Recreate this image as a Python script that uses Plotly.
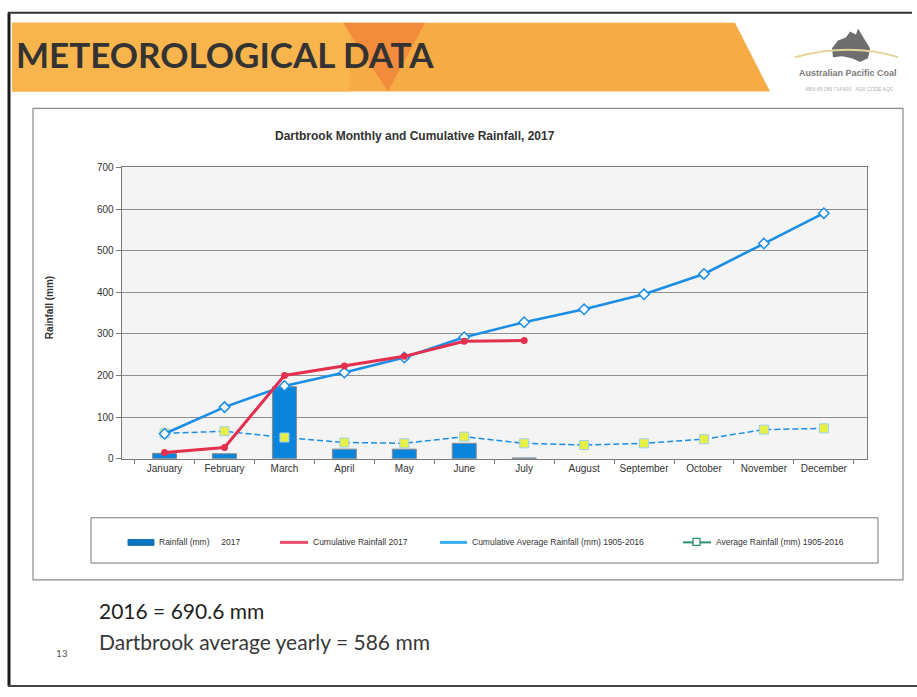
import plotly.graph_objects as go

W, H = 917, 697

months = ["January", "February", "March", "April", "May", "June", "July",
          "August", "September", "October", "November", "December"]
rain_2017 = [13, 12, 173, 23, 23, 37, 2, None, None, None, None, None]
cum_rain_2017 = [15, 27, 200, 223, 246, 282, 284, None, None, None, None, None]
cum_avg_rain = [60, 124, 175, 207, 243, 292, 328, 359, 395, 444, 517, 590]
avg_rain = [61, 66, 51, 39, 37, 53, 37, 33, 37, 47, 70, 73]

y_ticks = [0, 100, 200, 300, 400, 500, 600, 700]

legend_labels = ["Rainfall (mm)     2017", "Cumulative Rainfall 2017",
                 "Cumulative Average Rainfall (mm) 1905-2016",
                 "Average Rainfall (mm) 1905-2016"]


def px(x):
    return x / W


def py(y):
    return 1 - y / H


CHART_FONT = "Liberation Sans Narrow, Liberation Sans, Arial"
BLUE = "#1a8ee4"
RED = "#e3304f"

fig = go.Figure()

fig.add_trace(go.Bar(
    x=months, y=rain_2017, name=legend_labels[0],
    marker=dict(color="#0b84dc", line=dict(color="#8a8a8a", width=1)),
    width=0.4, showlegend=False,
))
fig.add_trace(go.Scatter(
    x=months, y=avg_rain, name=legend_labels[3], mode="lines+markers",
    line=dict(color=BLUE, width=1.5, dash="6px,3px"),
    marker=dict(symbol="square", size=9, color="#e8ef45",
                line=dict(color="#9fd0f0", width=1)),
    showlegend=False,
))
fig.add_trace(go.Scatter(
    x=months, y=cum_avg_rain, name=legend_labels[2], mode="lines+markers",
    line=dict(color=BLUE, width=2.6),
    marker=dict(symbol="diamond", size=8, color="white",
                line=dict(color=BLUE, width=1.5)),
    showlegend=False,
))
fig.add_trace(go.Scatter(
    x=months, y=cum_rain_2017, name=legend_labels[1], mode="lines+markers",
    line=dict(color=RED, width=3),
    marker=dict(symbol="circle", size=7, color=RED),
    showlegend=False, connectgaps=False,
))

shapes = []
# slide border
shapes.append(dict(type="line", xref="paper", yref="paper", x0=px(9), x1=px(9),
                   y0=py(8), y1=py(692), line=dict(color="#1a1a1a", width=3)))
shapes.append(dict(type="line", xref="paper", yref="paper", x0=px(8), x1=px(912),
                   y0=py(8), y1=py(8), line=dict(color="#333333", width=2)))
shapes.append(dict(type="line", xref="paper", yref="paper", x0=px(8), x1=px(917),
                   y0=py(692), y1=py(692), line=dict(color="#444444", width=2)))
# orange banner
shapes.append(dict(type="path", xref="paper", yref="paper",
                   path=f"M {px(12)},{py(18)} L {px(735)},{py(18)} L {px(770)},{py(88)} L {px(12)},{py(88)} Z",
                   fillcolor="#f7ab45", line=dict(width=0), layer="below"))
shapes.append(dict(type="path", xref="paper", yref="paper",
                   path=f"M {px(12)},{py(18)} L {px(350)},{py(18)} L {px(350)},{py(88)} L {px(12)},{py(88)} Z",
                   fillcolor="#f9b54d", line=dict(width=0), layer="below"))
shapes.append(dict(type="path", xref="paper", yref="paper",
                   path=f"M {px(343)},{py(18)} L {px(425)},{py(18)} L {px(388)},{py(88)} Z",
                   fillcolor="#f28b3c", line=dict(width=0), layer="below"))
# chart frame
shapes.append(dict(type="rect", xref="paper", yref="paper", x0=px(33), x1=px(903),
                   y0=py(105), y1=py(584), line=dict(color="#8c8c8c", width=1.2),
                   fillcolor="rgba(0,0,0,0)", layer="below"))
# legend box
shapes.append(dict(type="rect", xref="paper", yref="paper", x0=px(91), x1=px(878),
                   y0=py(521), y1=py(567), line=dict(color="#777777", width=1),
                   fillcolor="white", layer="below"))
ly = py(546)
# legend swatches
shapes.append(dict(type="rect", xref="paper", yref="paper", x0=px(128), x1=px(154),
                   y0=py(549), y1=py(543), fillcolor="#0b75c2",
                   line=dict(color="#1a6fb0", width=1)))
shapes.append(dict(type="line", xref="paper", yref="paper", x0=px(280), x1=px(308),
                   y0=ly, y1=ly, line=dict(color="#ef4f6e", width=3)))
shapes.append(dict(type="line", xref="paper", yref="paper", x0=px(440), x1=px(467),
                   y0=ly, y1=ly, line=dict(color="#35aef0", width=3)))
shapes.append(dict(type="line", xref="paper", yref="paper", x0=px(683), x1=px(711),
                   y0=ly, y1=ly, line=dict(color="#2a8f6e", width=2)))
shapes.append(dict(type="rect", xref="paper", yref="paper", x0=px(693), x1=px(700),
                   y0=py(549), y1=py(542), fillcolor="white",
                   line=dict(color="#2a8f6e", width=1.3)))
# logo: simplified Australia silhouette + arc
shapes.append(dict(type="path", xref="paper", yref="paper",
                   path=(f"M {px(832)},{py(44)} L {px(838)},{py(36)} L {px(846)},{py(33)} "
                         f"L {px(850)},{py(27)} L {px(856)},{py(30)} L {px(858)},{py(24)} "
                         f"L {px(864)},{py(34)} L {px(870)},{py(44)} L {px(868)},{py(54)} "
                         f"L {px(860)},{py(58)} L {px(852)},{py(54)} L {px(842)},{py(52)} "
                         f"L {px(833)},{py(53)} Z"),
                   fillcolor="#6e6e6e", line=dict(width=0)))
shapes.append(dict(type="path", xref="paper", yref="paper",
                   path=f"M {px(795)},{py(53)} Q {px(850)},{py(38)} {px(898)},{py(53)}",
                   line=dict(color="#e3d59a", width=2)))

annotations = []
annotations.append(dict(text="<b>METEOROLOGICAL DATA</b>", xref="paper", yref="paper",
                        x=px(14), y=py(50), xanchor="left", yanchor="middle",
                        showarrow=False, font=dict(family="Lato, Open Sans", size=35, color="#333333")))
annotations.append(dict(text="<b>Australian Pacific Coal</b>", xref="paper", yref="paper",
                        x=px(848), y=py(69), xanchor="center", yanchor="middle",
                        showarrow=False, font=dict(family=CHART_FONT, size=9, color="#7a7a7a")))
annotations.append(dict(text="ABN 45 089 714 600 · ASX CODE AQC", xref="paper", yref="paper",
                        x=px(849), y=py(85), xanchor="center", yanchor="middle",
                        showarrow=False, font=dict(family=CHART_FONT, size=5, color="#b0b0b0")))
annotations.append(dict(text="<b>Dartbrook Monthly and Cumulative Rainfall, 2017</b>",
                        xref="paper", yref="paper", x=px(415), y=py(133),
                        xanchor="center", yanchor="middle", showarrow=False,
                        font=dict(family=CHART_FONT, size=12, color="#333333")))
annotations.append(dict(text="<b>Rainfall (mm)</b>", xref="paper", yref="paper",
                        x=px(49), y=py(308), xanchor="center", yanchor="middle",
                        textangle=-90, showarrow=False,
                        font=dict(family=CHART_FONT, size=10, color="#333333")))
leg_text_x = [157, 311, 470, 714]
for lx, lab in zip(leg_text_x, legend_labels):
    annotations.append(dict(text=lab, xref="paper", yref="paper", x=px(lx), y=ly,
                            xanchor="left", yanchor="middle", showarrow=False,
                            font=dict(family=CHART_FONT, size=8.5, color="#333333")))
annotations.append(dict(text="2016 = 690.6 mm", xref="paper", yref="paper",
                        x=px(97), y=py(615), xanchor="left", yanchor="middle",
                        showarrow=False, font=dict(family="Lato, Open Sans", size=21, color="#1f1f1f")))
annotations.append(dict(text="Dartbrook average yearly = 586 mm", xref="paper", yref="paper",
                        x=px(97), y=py(647), xanchor="left", yanchor="middle",
                        showarrow=False, font=dict(family="Lato, Open Sans", size=21, color="#383838")))
annotations.append(dict(text="13", xref="paper", yref="paper",
                        x=px(62), y=py(658), xanchor="center", yanchor="middle",
                        showarrow=False, font=dict(family="Lato", size=10, color="#555555")))

fig.update_layout(
    width=W, height=H,
    margin=dict(l=0, r=0, t=0, b=0),
    paper_bgcolor="white",
    plot_bgcolor="#f4f4f4",
    shapes=shapes,
    annotations=annotations,
    bargap=0.6,
    xaxis=dict(domain=[px(121.7), px(866.7)], type="category",
               categoryorder="array", categoryarray=months,
               showline=True, linecolor="#7a7a7a", linewidth=1.2, mirror=True,
               ticks="outside", tickson="boundaries", ticklen=4, tickcolor="#7a7a7a",
               showgrid=False, tickangle=0,
               tickfont=dict(family=CHART_FONT, size=10, color="#333333")),
    yaxis=dict(domain=[py(461), py(165)], range=[0, 700],
               tickvals=y_ticks, ticktext=[str(v) for v in y_ticks],
               showline=True, linecolor="#7a7a7a", linewidth=1.2, mirror=True,
               gridcolor="#8f8f8f", gridwidth=1,
               ticks="outside", ticklen=5, tickcolor="#7a7a7a",
               zeroline=False,
               tickfont=dict(family=CHART_FONT, size=10, color="#333333")),
)

fig.write_html("out.html", config={"displayModeBar": False},
               post_script="document.body.style.margin='0px';document.body.style.overflow='hidden';")
